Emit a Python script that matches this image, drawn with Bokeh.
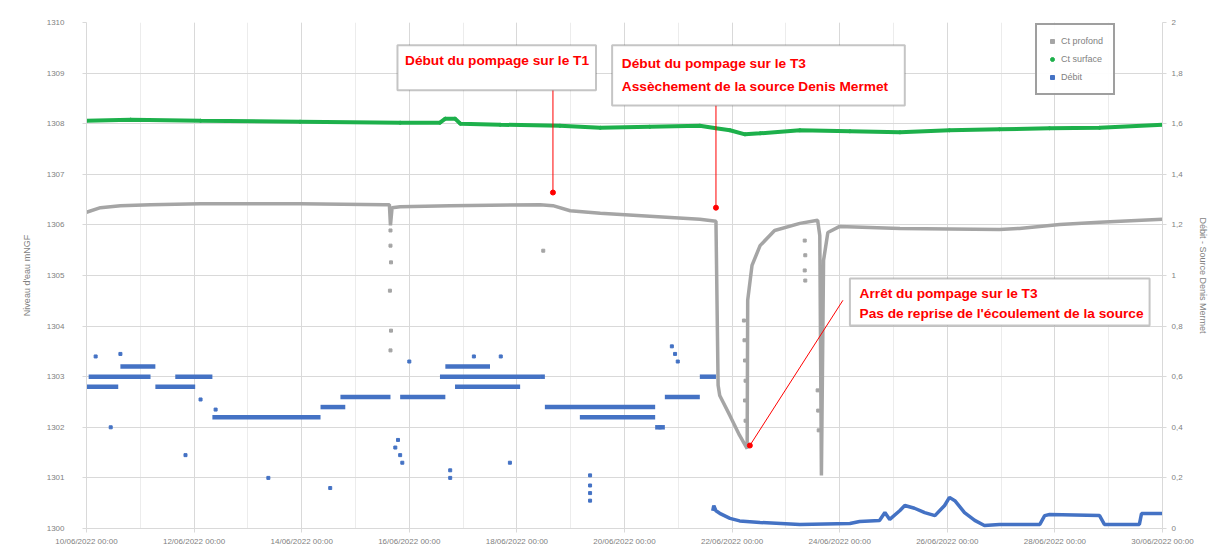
import pandas as pd
from bokeh.plotting import figure
from bokeh.models import (Range1d, LinearAxis, FixedTicker, DatetimeTickFormatter,
                          BoxAnnotation, Label, Legend, LegendItem, CustomJSTickFormatter)
from bokeh.embed import file_html
from bokeh.resources import INLINE

# ---------------- data (days since 10/06/2022 00:00) ----------------
start = pd.Timestamp("2022-06-10 00:00")

profond_days = [0, 0.26, 0.63, 1.19, 2.12, 3.97, 5.55, 5.63, 5.65, 5.68, 5.83, 6.76, 8.43, 8.67,
                8.99, 9.55, 10.47, 11.40, 11.70, 11.74, 11.77, 11.96, 12.14, 12.28, 12.29, 12.37,
                12.52, 12.79, 13.26, 13.59, 13.63, 13.66, 13.70, 13.78, 14.00, 15.12, 16.97, 17.34,
                18.09, 18.83, 20.00]
profond_vals = [1306.25, 1306.34, 1306.38, 1306.40, 1306.42, 1306.42, 1306.40, 1306.40, 1305.99,
                1306.34, 1306.36, 1306.38, 1306.40, 1306.38, 1306.28, 1306.23, 1306.17, 1306.11,
                1306.07, 1302.83, 1302.63, 1302.23, 1301.84, 1301.58, 1304.51, 1305.20, 1305.59,
                1305.89, 1306.03, 1306.09, 1305.79, 1301.05, 1305.30, 1305.85, 1305.97, 1305.93,
                1305.91, 1305.93, 1306.01, 1306.05, 1306.11]

profond_pts_days = [5.65, 5.65, 5.66, 5.64, 5.66, 5.65, 8.49, 12.22, 12.23, 12.24, 12.25, 12.24,
                    12.25, 13.35, 13.36, 13.35, 13.36, 13.59, 13.60, 13.61]
profond_pts_vals = [1305.89, 1305.59, 1305.26, 1304.70, 1303.91, 1303.52, 1305.49, 1304.11,
                    1303.72, 1303.32, 1302.92, 1302.53, 1302.13, 1305.69, 1305.40, 1305.10,
                    1304.90, 1302.73, 1302.33, 1301.94]

surface_days = [0, 0.82, 2.12, 3.97, 5.83, 6.57, 6.67, 6.85, 6.95, 7.69, 8.80, 9.55, 10.47, 11.40,
                11.70, 11.96, 12.24, 12.52, 13.26, 14.19, 15.12, 16.04, 16.97, 17.90, 18.83, 20.00]
surface_vals = [1308.06, 1308.08, 1308.06, 1308.04, 1308.02, 1308.02, 1308.10, 1308.10, 1308.00,
                1307.98, 1307.96, 1307.92, 1307.94, 1307.96, 1307.91, 1307.87, 1307.79, 1307.81,
                1307.87, 1307.85, 1307.83, 1307.87, 1307.89, 1307.91, 1307.92, 1307.98]

# Débit before pumping: horizontal runs of quantised readings
debit_run_start = [0.00, 0.04, 0.63, 1.28, 1.65, 2.34, 4.35, 4.72, 5.83, 6.57, 6.67, 6.85, 8.43,
                   8.52, 9.17, 10.57, 10.75, 11.40]
debit_run_end = [0.59, 1.19, 1.28, 2.02, 2.34, 4.35, 4.81, 5.65, 6.67, 8.43, 7.50, 8.06, 8.52,
                 10.57, 10.57, 10.75, 11.40, 11.70]
debit_run_vals = [0.56, 0.60, 0.64, 0.56, 0.60, 0.44, 0.48, 0.52, 0.52, 0.60, 0.64, 0.56, 0.60,
                  0.48, 0.44, 0.40, 0.52, 0.60]

debit_pts_days = [0.17, 0.63, 2.40, 0.45, 1.84, 3.38, 4.53, 5.79, 5.83, 5.87, 5.74, 6.76, 6.76,
                  7.87, 9.36, 9.36, 9.36, 9.36, 10.66, 10.88, 10.99, 10.94, 2.12, 6.00, 7.20, 7.70]
debit_pts_vals = [0.68, 0.69, 0.47, 0.40, 0.29, 0.20, 0.16, 0.35, 0.29, 0.26, 0.32, 0.23, 0.20,
                  0.26, 0.21, 0.17, 0.14, 0.11, 0.40, 0.72, 0.66, 0.69, 0.51, 0.66, 0.68, 0.68]

debit_days = [11.64, 11.66, 11.70, 11.77, 11.96, 12.14, 12.52, 13.26, 14.19, 14.37, 14.74, 14.84,
              14.93, 15.12, 15.21, 15.39, 15.58, 15.77, 15.95, 16.04, 16.14, 16.32, 16.51, 16.69,
              16.97, 17.72, 17.81, 17.90, 18.83, 18.92, 19.57, 19.61, 20.00]
debit_vals = [0.07, 0.09, 0.07, 0.06, 0.04, 0.03, 0.024, 0.016, 0.02, 0.028, 0.032, 0.063, 0.036,
              0.071, 0.091, 0.08, 0.063, 0.051, 0.091, 0.123, 0.11, 0.063, 0.032, 0.012, 0.016,
              0.016, 0.051, 0.055, 0.051, 0.016, 0.016, 0.059, 0.059]

left_ticks = [1300, 1301, 1302, 1303, 1304, 1305, 1306, 1307, 1308, 1309, 1310]
right_ticks = [0, 0.2, 0.4, 0.6, 0.8, 1.0, 1.2, 1.4, 1.6, 1.8, 2.0]
tick_days = [0, 2, 4, 6, 8, 10, 12, 14, 16, 18, 20]
minor_days = list(range(0, 21))

series_names = ["Ct profond", "Ct surface", "Débit"]
left_title = "Niveau d'eau mNGF"
right_title = "Débit - Source Denis Mermet"

ann1_lines = ["Début du pompage sur le T1"]
ann2_lines = ["Début du pompage sur le T3", "Assèchement de la source Denis Mermet"]
ann3_lines = ["Arrêt du pompage sur le T3", "Pas de reprise de l'écoulement de la source"]
ann_boxes = [(5.78, 9.47, 1309.55, 1308.66), (9.77, 15.21, 1309.55, 1308.36),
             (14.19, 19.76, 1304.94, 1304.01)]
ann_text_day = [5.92, 9.95, 14.37]
ann_text_levels = [[1309.25], [1309.19, 1308.74], [1304.64, 1304.25]]
ann_arrow_from = [(8.67, 1308.66), (11.70, 1308.36), (14.06, 1304.51)]
ann_arrow_to = [(8.67, 1306.64), (11.70, 1306.34), (12.33, 1301.64)]


def to_dt(days):
    return [start + pd.to_timedelta(d, unit="D") for d in days]


def to_ms(d):
    return (start + pd.to_timedelta(d, unit="D")).value / 1e6


GREY = "#a5a5a5"
GREEN = "#1db04b"
BLUE = "#4472c4"
RED = "#ff0000"
TXT = "#7f7f7f"

p = figure(width=1210, height=555, x_axis_type="datetime", output_backend="svg",
           toolbar_location=None, min_border_left=86, min_border_right=47,
           min_border_top=22, min_border_bottom=27,
           x_range=Range1d(to_ms(0), to_ms(20)), y_range=Range1d(1300, 1310))
p.extra_y_ranges = {"debit": Range1d(0, 2)}
p.outline_line_color = None
p.background_fill_color = "white"

p.xaxis.ticker = FixedTicker(ticks=[to_ms(d) for d in tick_days],
                             minor_ticks=[to_ms(d) for d in minor_days])
fmt = "%d/%m/%Y %H:%M"
p.xaxis.formatter = DatetimeTickFormatter(milliseconds=fmt, seconds=fmt, minsec=fmt, minutes=fmt,
                                          hourmin=fmt, hours=fmt, days=fmt, months=fmt, years=fmt)
p.yaxis.ticker = FixedTicker(ticks=left_ticks)
p.yaxis.axis_label = left_title

raxis = LinearAxis(y_range_name="debit", ticker=FixedTicker(ticks=right_ticks),
                   formatter=CustomJSTickFormatter(
                       code="return (Math.round(tick*10)/10).toString().replace('.', ',');"),
                   axis_label=right_title)
p.add_layout(raxis, "right")

for ax in [p.xaxis[0], p.yaxis[0], raxis]:
    ax.axis_line_color = "#d9d9d9"
    ax.major_tick_line_color = "#d9d9d9"
    ax.minor_tick_line_color = None
    ax.major_tick_in = 0
    ax.major_tick_out = 4
    ax.major_label_text_color = TXT
    ax.major_label_text_font = "Liberation Sans"
    ax.major_label_text_font_size = "8px"
    ax.axis_label_text_color = TXT
    ax.axis_label_text_font = "Liberation Sans"
    ax.axis_label_text_font_size = "9px"
    ax.axis_label_text_font_style = "normal"
    ax.major_label_standoff = 4
    ax.axis_label_standoff = 10
p.yaxis[0].major_label_standoff = 18
p.yaxis[0].axis_label_standoff = 12
raxis.major_label_standoff = 5
raxis.axis_label_standoff = 12

p.xgrid.grid_line_color = "#d9d9d9"
p.xgrid.minor_grid_line_color = "#ececec"
p.ygrid.grid_line_color = "#d9d9d9"

p.line(to_dt(surface_days), surface_vals, line_color=GREEN, line_width=4)
r_surf = p.scatter(to_dt(surface_days), surface_vals, color=GREEN, size=3)

p.line(to_dt(profond_days), profond_vals, line_color=GREY, line_width=3.5)
r_prof = p.scatter(to_dt(profond_pts_days), profond_pts_vals, color=GREY, size=3, marker="square")

p.segment(x0=to_dt(debit_run_start), x1=to_dt(debit_run_end), y0=debit_run_vals, y1=debit_run_vals,
          line_color=BLUE, line_width=4.5, y_range_name="debit")
r_deb = p.scatter(to_dt(debit_pts_days), debit_pts_vals, color=BLUE, size=3, marker="square",
                  y_range_name="debit")
p.line(to_dt(debit_days), debit_vals, line_color=BLUE, line_width=3.5, y_range_name="debit")

for (d0, v0), (d1, v1) in zip(ann_arrow_from, ann_arrow_to):
    p.line(to_dt([d0, d1]), [v0, v1], line_color=RED, line_width=1)
    p.scatter(to_dt([d1]), [v1], color=RED, size=5)

for (d0, d1, top, bot), td, levels, lines in zip(ann_boxes, ann_text_day, ann_text_levels,
                                                   [ann1_lines, ann2_lines, ann3_lines]):
    p.add_layout(BoxAnnotation(left=to_ms(d0), right=to_ms(d1), top=top, bottom=bot,
                               fill_color="white", fill_alpha=1, line_color="#404040",
                               line_width=2, level="overlay"))
    for lv, txt in zip(levels, lines):
        p.add_layout(Label(x=to_ms(td), y=lv, text=txt, text_color=RED,
                           text_font="Liberation Sans", text_font_style="bold",
                           text_font_size="13.7px", text_baseline="middle", level="overlay"))

legend = Legend(items=[LegendItem(label=series_names[0], renderers=[r_prof]),
                       LegendItem(label=series_names[1], renderers=[r_surf]),
                       LegendItem(label=series_names[2], renderers=[r_deb])],
                location=(949, 433))
legend.border_line_color = "#404040"
legend.border_line_width = 2
legend.label_text_font = "Liberation Sans"
legend.label_text_font_size = "9px"
legend.label_text_color = TXT
legend.glyph_width = 10
legend.glyph_height = 10
legend.label_height = 12
legend.label_standoff = 4
legend.spacing = 6
legend.padding = 10
legend.margin = 0
p.add_layout(legend)

open("out.html", "w").write(file_html(p, INLINE))
